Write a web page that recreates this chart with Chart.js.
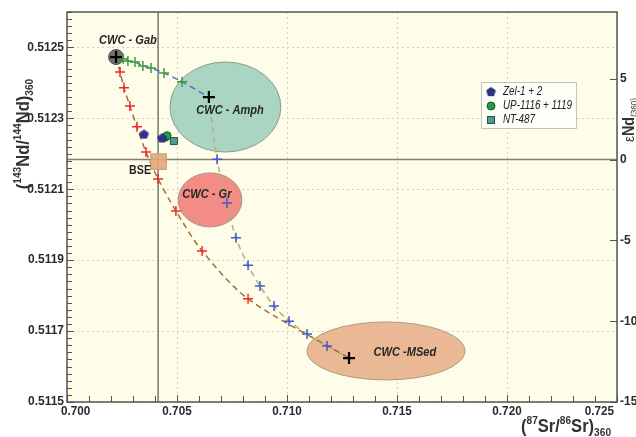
<!DOCTYPE html>
<html lang="en">
<head>
<meta charset="UTF-8" />
<title>Sr-Nd isotopes 360 Ma</title>
<script src="https://cdn.jsdelivr.net/npm/chart.js@4.4.0/dist/chart.umd.min.js"></script>
<style>
  body { margin: 0; background: #fff; }
</style>
</head>
<body>
<canvas id="myChart" width="636" height="437"></canvas>
<script>
// end members (black crosses)
const endNames = ['CWC - Gab', 'CWC - Amph', 'CWC -MSed'];
const endSr = [0.70223, 0.70645, 0.71282];
const endNd = [0.512473, 0.512360, 0.511624];

// mixing curves: tick marks along each
const gabAmphSr = [0.70255, 0.70277, 0.70309, 0.70345, 0.70382, 0.70441, 0.70523];
const gabAmphNd = [0.512468, 0.512462, 0.512459, 0.512448, 0.512442, 0.512428, 0.512403];
const gabSedSr = [0.70241, 0.70259, 0.70286, 0.70318, 0.70359, 0.70414, 0.70495, 0.70614, 0.70823];
const gabSedNd = [0.512431, 0.512386, 0.512335, 0.512276, 0.512205, 0.512129, 0.512039, 0.511926, 0.511791];
const amphSedSr = [0.70682, 0.70727, 0.70768, 0.70823, 0.70877, 0.70941, 0.71009, 0.71091, 0.71182];
const amphSedNd = [0.512185, 0.512061, 0.511963, 0.511886, 0.511827, 0.511771, 0.511728, 0.511692, 0.511658];

// samples
const zelSr = [0.70350, 0.70432];
const zelNd = [0.512256, 0.512245];
const upSr = [0.70447, 0.70455];
const upNd = [0.512247, 0.512251];
const ntSr = [0.70486];
const ntNd = [0.512236];

const bseSr = [0.70416];
const bseNd = [0.512178];

// reference lines
const churNd = 0.512184;   // eNd = 0
const bseLineSr = 0.70414;

// source fields (ellipses)
const fieldNames = ['CWC - Gab', 'CWC - Amph', 'CWC - Gr', 'CWC -MSed'];
const fieldSr = [0.70223, 0.70720, 0.70650, 0.71450];
const fieldNd = [0.512473, 0.512332, 0.512070, 0.511644];
const fieldSrHalf = [0.00034, 0.00252, 0.00145, 0.00359];
const fieldNdHalf = [0.0000212, 0.000127, 0.0000762, 0.0000818];
const fieldFill = ['#6e716e', '#a9d5c2', '#f28c84', '#eab894'];
const fieldLine = ['#4e504e', '#8f9a8e', '#a09a88', '#ab9c82'];

// text labels
const labelText = ['CWC - Gab', 'CWC - Amph', 'CWC - Gr', 'CWC -MSed', 'BSE'];
const labelSr = [0.70277, 0.70741, 0.70636, 0.71536, 0.70332];
const labelNd = [0.512521, 0.512324, 0.512087, 0.511641, 0.512154];

// ticks
const xTicks = [0.700, 0.705, 0.710, 0.715, 0.720, 0.725];
const yTicks = [0.5115, 0.5117, 0.5119, 0.5121, 0.5123, 0.5125];
const epsTicks = [-15, -10, -5, 0, 5];

const pts = (xs, ys) => xs.map((x, i) => ({x: x, y: ys[i]}));
const gab = {x: endSr[0], y: endNd[0]};
const amph = {x: endSr[1], y: endNd[1]};
const msed = {x: endSr[2], y: endNd[2]};

// pentagon marker
const pent = document.createElement('canvas');
pent.width = 11; pent.height = 11;
(function () {
  const c = pent.getContext('2d');
  c.beginPath();
  for (let i = 0; i < 5; i++) {
    const a = -Math.PI / 2 + i * 2 * Math.PI / 5;
    const px = 5.5 + 4.6 * Math.cos(a), py = 6 + 4.6 * Math.sin(a);
    i ? c.lineTo(px, py) : c.moveTo(px, py);
  }
  c.closePath();
  c.fillStyle = '#2e3192';
  c.fill();
  c.strokeStyle = '#1b1d55';
  c.lineWidth = 0.8;
  c.stroke();
})();

const FONT = "'Liberation Sans', Arial, sans-serif";

function narrow(ctx, str, x, y, font, align, sx) {
  ctx.save();
  ctx.font = font;
  ctx.translate(x, y);
  ctx.scale(sx, 1);
  ctx.textAlign = align;
  ctx.fillText(str, 0, 0);
  ctx.restore();
}

// rich text: parts [text, size, weight, dy]; centred on x
function rich(ctx, parts, x, y, sx, align) {
  ctx.save();
  ctx.translate(x, y);
  ctx.scale(sx, 1);
  ctx.textAlign = 'left';
  ctx.textBaseline = 'alphabetic';
  let w = 0;
  parts.forEach(p => { ctx.font = p[2] + ' ' + p[1] + 'px ' + FONT; w += ctx.measureText(p[0]).width; });
  let cx = align === 'left' ? 0 : -w / 2;
  parts.forEach(p => {
    ctx.font = p[2] + ' ' + p[1] + 'px ' + FONT;
    ctx.fillText(p[0], cx, p[3]);
    cx += ctx.measureText(p[0]).width;
  });
  ctx.restore();
}

const isMajorX = v => xTicks.some(t => Math.abs(t - v) < 1e-7);
const isMajorY = v => yTicks.some(t => Math.abs(t - v) < 1e-9);

const decor = {
  id: 'decor',
  beforeDraw(chart) {
    const {ctx, chartArea: a} = chart;
    ctx.save();
    ctx.fillStyle = '#fefde9';
    ctx.fillRect(a.left, a.top, a.right - a.left, a.bottom - a.top);
    ctx.restore();
  },
  beforeDatasetsDraw(chart) {
    const {ctx, chartArea: a, scales: {x, y}} = chart;
    ctx.save();
    // reference lines
    ctx.strokeStyle = '#807f70';
    ctx.lineWidth = 1.6;
    const yc = y.getPixelForValue(churNd);
    ctx.beginPath(); ctx.moveTo(a.left, yc); ctx.lineTo(a.right, yc); ctx.stroke();
    ctx.strokeStyle = '#4a4a44';
    ctx.lineWidth = 1.1;
    const xb = x.getPixelForValue(bseLineSr);
    ctx.beginPath(); ctx.moveTo(xb, a.top); ctx.lineTo(xb, a.bottom); ctx.stroke();
    // fields
    fieldSr.forEach((s, i) => {
      const cx = x.getPixelForValue(s), cy = y.getPixelForValue(fieldNd[i]);
      const rx = Math.abs(x.getPixelForValue(s + fieldSrHalf[i]) - cx);
      const ry = Math.abs(y.getPixelForValue(fieldNd[i] + fieldNdHalf[i]) - cy);
      ctx.beginPath();
      ctx.ellipse(cx, cy, rx, ry, 0, 0, 2 * Math.PI);
      ctx.fillStyle = fieldFill[i];
      ctx.fill();
      ctx.strokeStyle = fieldLine[i];
      ctx.lineWidth = 1;
      ctx.stroke();
    });
    ctx.restore();
  },
  afterDatasetsDraw(chart) {
    const {ctx, scales: {x, y}} = chart;
    ctx.save();
    ctx.fillStyle = '#262626';
    ctx.textBaseline = 'middle';
    labelText.forEach((t, i) => {
      const f = t === 'BSE' ? 'bold 13px ' + FONT : 'italic bold 13.5px ' + FONT;
      narrow(ctx, t, x.getPixelForValue(labelSr[i]), y.getPixelForValue(labelNd[i]), f, 'center', 0.82);
    });
    ctx.restore();
  },
  afterDraw(chart) {
    const {ctx, chartArea: a, scales: {x, y, y2}} = chart;
    ctx.save();
    // inward tick marks
    ctx.strokeStyle = '#555';
    ctx.lineWidth = 1;
    x.ticks.forEach(t => {
      const px = Math.round(x.getPixelForValue(t.value)) + 0.5;
      const len = isMajorX(t.value) ? 7 : 6;
      ctx.beginPath(); ctx.moveTo(px, a.bottom); ctx.lineTo(px, a.bottom - len); ctx.stroke();
    });
    y.ticks.forEach(t => {
      const py = Math.round(y.getPixelForValue(t.value)) + 0.5;
      const len = isMajorY(t.value) ? 7 : 5;
      ctx.beginPath(); ctx.moveTo(a.left, py); ctx.lineTo(a.left + len, py); ctx.stroke();
    });
    y2.ticks.forEach(t => {
      const py = Math.round(y2.getPixelForValue(t.value)) + 0.5;
      ctx.beginPath(); ctx.moveTo(a.right, py); ctx.lineTo(a.right - 7, py); ctx.stroke();
    });
    // frame
    ctx.strokeStyle = '#4a4a44';
    ctx.lineWidth = 1.4;
    ctx.strokeRect(a.left, a.top, a.right - a.left, a.bottom - a.top);

    // x tick labels
    ctx.fillStyle = '#2b2b2b';
    ctx.textBaseline = 'top';
    xTicks.forEach((t, i) => {
      const px = x.getPixelForValue(t);
      let al = 'center', dx = 0;
      if (i === 0) { al = 'left'; dx = -6; }
      if (i === xTicks.length - 1) { al = 'right'; dx = -3; }
      narrow(ctx, t.toFixed(3), px + dx, a.bottom + 3, 'bold 13px ' + FONT, al, 0.9);
    });

    // axis titles
    ctx.fillStyle = '#333';
    ctx.save();
    ctx.translate(29, 134);
    ctx.rotate(-Math.PI / 2);
    rich(ctx, [['(', 18, 'bold', 0], ['143', 11, 'bold', -8], ['Nd', 18, 'bold', 0], ['/', 18, 'bold', 0],
      ['144', 11, 'bold', -8], ['Nd', 18, 'bold', 0], [')', 18, 'bold', 0], ['360', 11, 'bold', 4]], 0, 0, 0.92);
    ctx.restore();

    rich(ctx, [['(', 18, 'bold', 0], ['87', 11, 'bold', -8], ['Sr', 18, 'bold', 0], ['/', 18, 'bold', 0],
      ['86', 11, 'bold', -8], ['Sr', 18, 'bold', 0], [')', 18, 'bold', 0], ['360', 11, 'bold', 4]], 566, 432, 0.92);

    ctx.save();
    ctx.translate(634, 120);
    ctx.rotate(-Math.PI / 2);
    rich(ctx, [['\u03b5', 15, 'normal', 0], ['Nd', 16, 'bold', 0], ['(360)', 9, 'normal', 3]], 0, 0, 0.9);
    ctx.restore();

    // legend
    const lx = 481, ly = 82;
    ctx.fillStyle = '#fefef8';
    ctx.fillRect(lx, ly, 95, 46);
    ctx.strokeStyle = '#c4c4bc';
    ctx.lineWidth = 1;
    ctx.strokeRect(lx + 0.5, ly + 0.5, 95, 46);
    const items = chart.data.datasets.filter(d => d.legend);
    items.forEach((d, i) => {
      const my = ly + 10 + i * 14;
      const mx = lx + 10;
      ctx.save();
      if (d.pointStyle === 'circle') {
        ctx.beginPath(); ctx.arc(mx, my, 4, 0, 2 * Math.PI);
        ctx.fillStyle = d.backgroundColor; ctx.fill();
        ctx.strokeStyle = d.borderColor; ctx.stroke();
      } else if (d.pointStyle === 'rect') {
        ctx.fillStyle = d.backgroundColor; ctx.fillRect(mx - 3.5, my - 3.5, 7, 7);
        ctx.strokeStyle = d.borderColor; ctx.strokeRect(mx - 3.5, my - 3.5, 7, 7);
      } else {
        ctx.drawImage(d.pointStyle, mx - 5.5, my - 6);
      }
      ctx.restore();
      ctx.fillStyle = '#222';
      ctx.textBaseline = 'middle';
      narrow(ctx, d.label, lx + 22, my, 'italic 12px ' + FONT, 'left', 0.82);
    });
    ctx.restore();
  }
};

const ctx = document.getElementById('myChart').getContext('2d');
const myChart = new Chart(ctx, {
  type: 'scatter',
  data: {
    datasets: [
      { label: 'Zel-1 + 2', legend: true, data: pts(zelSr, zelNd), pointStyle: pent, order: 0 },
      { label: 'UP-1116 + 1119', legend: true, data: pts(upSr, upNd), pointStyle: 'circle', pointRadius: 4,
        backgroundColor: '#1f9d4b', borderColor: '#11602c', borderWidth: 1, order: 0 },
      { label: 'NT-487', legend: true, data: pts(ntSr, ntNd), pointStyle: 'rect', pointRadius: 5,
        backgroundColor: '#4f9b8f', borderColor: '#2d4f4a', borderWidth: 1, order: 0 },
      { label: 'end members', data: pts(endSr, endNd), pointStyle: 'cross', pointRadius: 6,
        borderColor: '#000', borderWidth: 2.2, order: 1 },
      { label: 'Gab-Amph', data: pts(gabAmphSr, gabAmphNd), pointStyle: 'cross', pointRadius: 5,
        borderColor: '#3f9a3c', borderWidth: 1.5, order: 2 },
      { label: 'Gab-MSed', data: pts(gabSedSr, gabSedNd), pointStyle: 'cross', pointRadius: 5,
        borderColor: '#ee2a2a', borderWidth: 1.5, order: 2 },
      { label: 'Amph-MSed', data: pts(amphSedSr, amphSedNd), pointStyle: 'cross', pointRadius: 5,
        borderColor: '#4458c8', borderWidth: 1.5, order: 2 },
      { label: 'BSE', data: pts(bseSr, bseNd), pointStyle: 'rect', pointRadius: 11,
        backgroundColor: 'rgba(226,170,125,0.9)', borderColor: '#c89a70', borderWidth: 1, order: 3 },
      { label: 'line Gab-Amph', data: [gab].concat(pts(gabAmphSr, gabAmphNd), [amph]), showLine: true,
        pointRadius: 0, borderColor: '#4a70d0', borderWidth: 1.5, borderDash: [6, 4], tension: 0.3, order: 5 },
      { label: 'line Gab-MSed', data: [gab].concat(pts(gabSedSr, gabSedNd), [msed]), showLine: true,
        pointRadius: 0, borderColor: '#a36e3a', borderWidth: 1.5, borderDash: [6, 4], tension: 0.3, order: 5 },
      { label: 'line Amph-MSed', data: [amph].concat(pts(amphSedSr, amphSedNd), [msed]), showLine: true,
        pointRadius: 0, borderColor: '#b2b07c', borderWidth: 1.5, borderDash: [6, 4], tension: 0.3, order: 5 }
    ]
  },
  options: {
    responsive: false,
    animation: false,
    layout: { padding: { top: 12, left: 0, right: 0, bottom: 0 } },
    plugins: { legend: { display: false }, tooltip: { enabled: false } },
    scales: {
      x: {
        type: 'linear', min: 0.700, max: 0.725,
        afterBuildTicks: s => { s.ticks = []; for (let i = 0; i <= 25; i++) s.ticks.push({value: 0.700 + i * 0.001}); },
        afterFit: s => { s.height = 35; },
        ticks: { display: false, autoSkip: false },
        border: { display: false, dash: [2, 3] },
        grid: { drawTicks: false, lineWidth: 1, color: c => c.tick && isMajorX(c.tick.value) ? '#cfcfc4' : 'rgba(0,0,0,0)' }
      },
      y: {
        type: 'linear', position: 'left', min: 0.5115, max: 0.5126,
        afterBuildTicks: s => { s.ticks = []; for (let i = 0; i <= 55; i++) s.ticks.push({value: 0.5115 + i * 0.00002}); },
        afterFit: s => { s.width = 67; },
        ticks: {
          autoSkip: false, padding: 3, color: '#2b2b2b',
          font: { family: FONT, size: 12, weight: 'bold' },
          callback: v => isMajorY(v) ? v.toFixed(4) : ''
        },
        border: { display: false, dash: [2, 3] },
        grid: { drawTicks: false, lineWidth: 1, color: c => c.tick && isMajorY(c.tick.value) ? '#cfcfc4' : 'rgba(0,0,0,0)' }
      },
      y2: {
        type: 'linear', position: 'right', min: -15, max: 9.13,
        afterBuildTicks: s => { s.ticks = epsTicks.map(v => ({value: v})); },
        afterFit: s => { s.width = 19; },
        ticks: {
          autoSkip: false, padding: 3, color: '#2b2b2b',
          font: { family: FONT, size: 12, weight: 'bold' },
          callback: v => String(v)
        },
        border: { display: false },
        grid: { display: false, drawTicks: false }
      }
    }
  },
  plugins: [decor]
});
</script>
</body>
</html>
